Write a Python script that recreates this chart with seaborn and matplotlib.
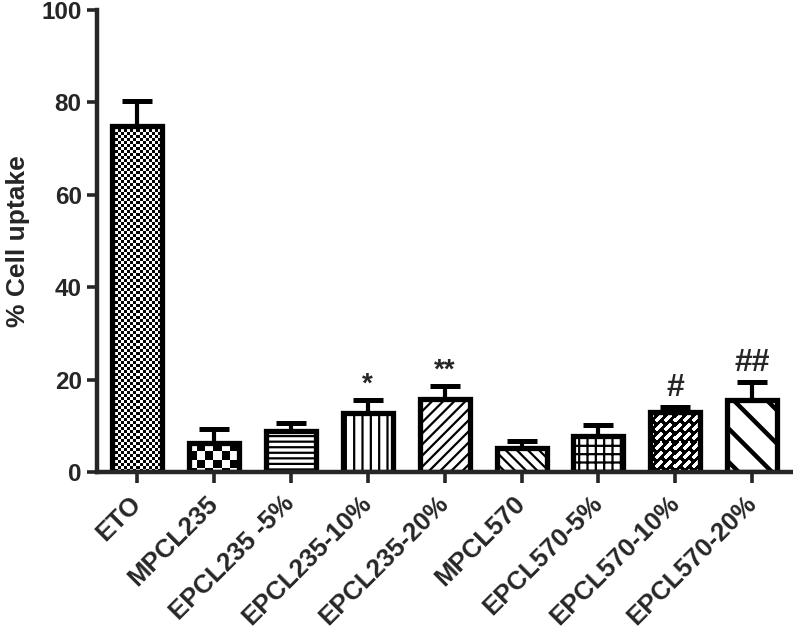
import numpy as np
import pandas as pd
import seaborn as sns
import matplotlib.pyplot as plt

# data
groups = ["ETO", "MPCL235", "EPCL235 -5%", "EPCL235-10%", "EPCL235-20%",
          "MPCL570", "EPCL570-5%", "EPCL570-10%", "EPCL570-20%"]
uptake = [74.8, 6.2, 8.9, 12.8, 15.9, 5.1, 7.8, 13.0, 15.5]
err_up = [5.5, 3.0, 1.6, 2.8, 2.7, 1.6, 2.3, 1.1, 4.0]
marks = ["", "", "", "*", "**", "", "", "#", "##"]

# fill of each bar: matplotlib hatch, or a texture drawn as an image
fills = ["fine_checker", "checker", "---", "||", "///", "\\\\\\", "++", "brick", "\\"]

df = pd.DataFrame({"group": groups, "uptake": uptake})

sns.set_style("ticks")
plt.rcParams['font.family'] = ['Liberation Sans', 'DejaVu Sans']
plt.rcParams['font.weight'] = 'bold'
plt.rcParams['hatch.linewidth'] = 1.6
plt.rcParams['hatch.color'] = 'black'

fig = plt.figure(figsize=(7.93, 6.31), dpi=100)
ax = fig.add_axes([97 / 793, 1 - 472 / 631, 696 / 793, 462 / 631])

sns.barplot(data=df, x="group", y="uptake", color="white", saturation=1,
            edgecolor="black", linewidth=3.8, width=0.65, errorbar=None, ax=ax)

xlim = (-0.52, 8.53)
ylim = (0, 100)
ax.set_xlim(*xlim)
ax.set_ylim(*ylim)


def texture(kind, w, h):
    yy, xx = np.mgrid[0:h, 0:w]
    if kind == "fine_checker":
        return ((xx // 3 + yy // 3) % 2).astype(float)
    if kind == "checker":
        return ((xx // 8 + yy // 8) % 2).astype(float)
    # brick-like diagonal dashes
    u = xx - yy
    v = xx + yy
    row = v // 9
    black = (v % 9 < 4) | ((u + row * 9) % 18 < 5)
    return black.astype(float)


for p, f in zip(ax.patches, fills):
    if f in ("fine_checker", "checker", "brick"):
        x0, x1 = p.get_x(), p.get_x() + p.get_width()
        y0, y1 = p.get_y(), p.get_y() + p.get_height()
        (px0, py0), (px1, py1) = ax.transData.transform([(x0, y0), (x1, y1)])
        img = texture(f, max(int(px1 - px0), 2), max(int(py1 - py0), 2))
        p.set_facecolor("none")
        im = ax.imshow(img, extent=(x0, x1, y0, y1), cmap="gray_r", vmin=0, vmax=1,
                       interpolation="nearest", aspect="auto", zorder=0.9)
        im.set_clip_path(p)
    else:
        p.set_hatch(f)
        if f == "\\":
            try:
                p.set_hatch_linewidth(3.2)
            except AttributeError:
                pass

ax.set_xlim(*xlim)
ax.set_ylim(*ylim)

# upper error bars only
xpos = np.arange(len(groups))
ax.errorbar(xpos, uptake, yerr=[np.zeros(len(groups)), err_up], fmt="none",
            ecolor="black", elinewidth=3, capsize=11, capthick=3.6, zorder=3)

# significance marks
for x, m, e, sig in zip(xpos, uptake, err_up, marks):
    if not sig:
        continue
    if "#" in sig:
        ax.annotate(sig, (x, m + e), xytext=(0, 3), textcoords="offset points",
                    ha="center", va="bottom", fontsize=23, fontweight="bold")
    else:
        ax.annotate(sig, (x, m + e), xytext=(0, 2), textcoords="offset points",
                    ha="center", va="bottom", fontsize=20, fontweight="bold")

ax.set_yticks([0, 20, 40, 60, 80, 100])
ax.set_ylabel("% Cell uptake", fontsize=19, fontweight="bold", labelpad=8)
ax.set_xlabel("")

for s in ["left", "bottom"]:
    ax.spines[s].set_linewidth(3.2)
sns.despine(ax=ax)

ax.tick_params(axis="y", width=2.6, length=7, labelsize=17.5, pad=4)
ax.tick_params(axis="x", width=2.6, length=8, labelsize=18.5, pad=12)
for lab in ax.get_xticklabels():
    lab.set_rotation(45)
    lab.set_ha("right")
    lab.set_va("center")
    lab.set_rotation_mode("anchor")
    lab.set_fontweight("bold")
for lab in ax.get_yticklabels():
    lab.set_fontweight("bold")

fig.savefig("out.png", dpi=100)
